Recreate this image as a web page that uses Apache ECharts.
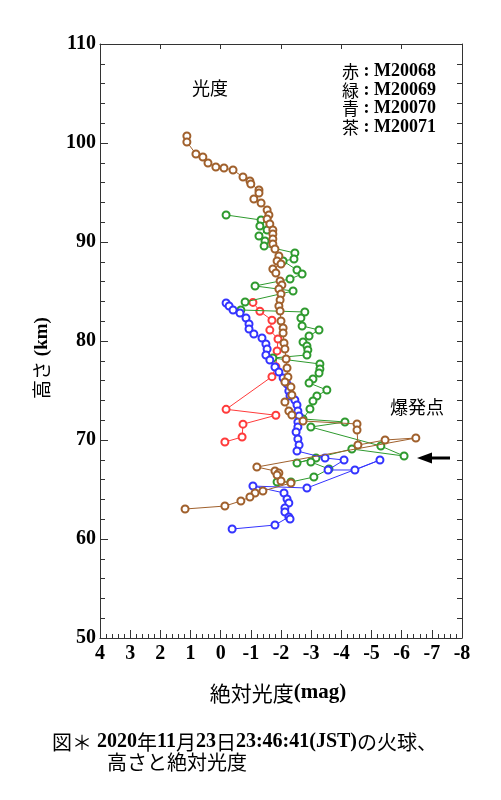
<!DOCTYPE html>
<html>
<head>
<meta charset="utf-8">
<script src="https://cdn.jsdelivr.net/npm/echarts@6/dist/echarts.min.js"></script>
<style>
html,body{margin:0;padding:0;background:#fff;}
#c{width:501px;height:800px;}
</style>
</head>
<body>
<div id="c"></div>
<script>
// ---- data (absolute magnitude, height km) ----
const seriesNames = ['M20068', 'M20069', 'M20070', 'M20071'];

const redMag = [-1.07,-1.30,-1.70,-1.63,-1.90,-1.87,-1.83,-1.70,-0.18,-1.83,-0.74,-0.71,-0.14];
const redH   = [83.9,83.0,82.1,81.1,80.2,79.0,77.4,76.4,73.1,72.5,71.6,70.3,69.8];

const greenMag = [-0.18,-1.34,-1.30,-1.54,-1.27,-1.47,-1.44,-2.46,-2.43,-2.07,-2.53,-2.70,-2.30,-1.14,-2.40,-0.81,-0.67,-2.79,-2.66,-2.70,-3.26,-2.93,-2.73,-2.86,-2.89,-2.86,-1.73,-3.29,-3.29,-3.26,-3.06,-2.93,-3.52,-3.19,-3.06,-2.96,-2.73,-4.12,-2.99,-5.31,-6.08,-4.35,-2.53,-3.16,-2.99,-3.59,-3.09,-2.33,-1.87];
const greenH   = [92.73,92.22,91.62,91.21,90.61,90.10,89.60,88.89,88.28,88.08,87.17,86.77,86.26,85.56,85.05,83.94,83.13,82.93,82.32,81.52,81.11,80.51,79.90,79.49,79.09,78.59,78.28,77.68,77.17,76.77,76.16,75.76,75.05,74.44,73.94,73.13,72.12,71.82,71.31,69.39,68.38,69.09,67.68,68.18,67.78,67.07,66.26,65.76,65.76];

const blueMag = [-0.18,-0.28,-0.41,-0.64,-0.84,-0.94,-0.94,-1.10,-1.37,-1.50,-1.54,-1.50,-1.63,-1.80,-1.93,-2.07,-2.20,-2.26,-2.30,-2.46,-2.53,-2.56,-2.60,-2.56,-2.56,-2.50,-2.56,-2.60,-2.53,-3.46,-4.09,-3.56,-4.45,-5.28,-2.86,-1.07,-2.10,-2.20,-2.26,-2.13,-2.13,-2.26,-2.30,-1.80,-0.38];
const blueH   = [83.84,83.54,83.13,82.83,82.32,81.72,81.21,80.71,80.30,79.70,79.19,78.59,78.08,77.37,76.87,76.26,75.66,74.95,74.44,74.04,73.54,72.93,72.42,71.82,71.31,70.81,70.10,69.49,68.89,68.18,67.98,66.97,66.97,67.98,65.15,65.35,64.65,64.04,63.64,63.13,62.73,62.22,62.02,61.41,61.01];

const brownMag = [1.12,1.12,0.82,0.59,0.42,0.16,-0.11,-0.41,-0.74,-0.97,-1.00,-1.27,-1.27,-1.10,-1.34,-1.54,-1.60,-1.54,-1.63,-1.73,-1.73,-1.73,-1.73,-1.80,-1.93,-1.87,-2.00,-1.73,-1.83,-1.97,-2.03,-1.93,-2.00,-1.97,-1.93,-1.97,-2.00,-2.07,-2.07,-2.10,-2.13,-2.17,-2.20,-2.23,-2.13,-2.33,-2.36,-2.13,-2.26,-2.36,-2.73,-4.52,-4.52,-4.55,-5.45,-6.47,-1.20,-1.80,-1.93,-1.87,-2.00,-2.33,-1.40,-1.14,-0.97,-0.67,-0.14,1.18];
const brownH   = [100.71,100.10,98.89,98.59,97.98,97.58,97.47,97.27,96.57,96.16,95.86,95.25,94.95,94.34,93.94,93.23,92.73,92.32,91.82,91.21,90.81,90.30,89.80,89.29,88.59,88.08,87.78,87.27,86.87,86.06,85.66,85.25,84.75,84.14,83.54,83.03,82.02,81.31,80.81,79.80,79.19,78.18,77.27,76.36,75.86,75.35,74.55,73.84,72.93,72.53,71.92,71.62,71.01,69.49,70.00,70.20,67.27,66.87,66.67,66.46,65.86,65.66,64.85,64.65,64.24,63.84,63.33,63.03];

const xTicks = [4,3,2,1,0,-1,-2,-3,-4,-5,-6,-7,-8];
const yTicks = [50,60,70,80,90,100,110];

const legendLines = [
  ['赤', 'M20068'],
  ['緑', 'M20069'],
  ['青', 'M20070'],
  ['茶', 'M20071']
];
const colors = ['#ff3b3b', '#2e9a2e', '#3333ff', '#a0602c'];

// ---- helpers ----
function zip(a, b) { return a.map((v, i) => [v, b[i]]); }
const CJK = /[\u3000-\u30ff\u4e00-\u9fff\uff00-\uffef]/;
function richText(str) {
  let out = '', cur = '', curType = null;
  for (const ch of str) {
    const t = CJK.test(ch) ? 'c' : 'l';
    if (t !== curType && cur) { out += '{' + curType + '|' + cur + '}'; cur = ''; }
    curType = t; cur += ch;
  }
  if (cur) out += '{' + curType + '|' + cur + '}';
  return out;
}
function richStyles(cSize, lSize) {
  return {
    c: { fontFamily: 'Noto Sans CJK JP', fontSize: cSize, fill: '#000', color: '#000' },
    l: { fontFamily: 'Liberation Serif', fontWeight: 'bold', fontSize: lSize, fill: '#000', color: '#000' }
  };
}
function textEl(str, x, y, cSize, lSize, opts) {
  return Object.assign({
    type: 'text', x: x, y: y,
    style: Object.assign({
      text: richText(str),
      rich: richStyles(cSize, lSize),
      align: 'left', verticalAlign: 'middle', fill: '#000'
    }, (opts && opts.style) || {})
  }, (opts && opts.el) || {});
}

const chart = echarts.init(document.getElementById('c'), null, { renderer: 'canvas' });

const allData = [zip(redMag, redH), zip(greenMag, greenH), zip(blueMag, blueH), zip(brownMag, brownH)];

const axisLineStyle = { color: '#333', width: 1 };

const option = {
  animation: false,
  backgroundColor: '#fff',
  grid: { left: 100, right: 39, top: 44, bottom: 162, containLabel: false },
  xAxis: [
    {
      type: 'value', inverse: true, min: -8, max: 4, interval: 1,
      position: 'bottom',
      axisLine: { show: true, onZero: false, lineStyle: axisLineStyle },
      axisTick: { show: true, inside: true, length: 8, lineStyle: axisLineStyle },
      minorTick: { show: true, splitNumber: 5, length: 4, lineStyle: axisLineStyle },
      splitLine: { show: false },
      axisLabel: {
        show: true, margin: 6,
        fontFamily: 'Liberation Serif', fontWeight: 'bold', fontSize: 20, color: '#000',
        formatter: function (v) { return xTicks.indexOf(v) >= 0 ? String(v) : ''; }
      }
    },
    {
      type: 'value', inverse: true, min: -8, max: 4, interval: 2,
      position: 'top',
      axisLine: { show: true, onZero: false, lineStyle: axisLineStyle },
      axisTick: { show: true, inside: true, length: 5, lineStyle: axisLineStyle },
      splitLine: { show: false },
      axisLabel: { show: false }
    }
  ],
  yAxis: [
    {
      type: 'value', min: 50, max: 110, interval: 10,
      position: 'left',
      axisLine: { show: true, onZero: false, lineStyle: axisLineStyle },
      axisTick: { show: true, inside: true, length: 8, lineStyle: axisLineStyle },
      minorTick: { show: true, splitNumber: 5, length: 5, lineStyle: axisLineStyle },
      splitLine: { show: false },
      axisLabel: {
        show: true, margin: 4,
        fontFamily: 'Liberation Serif', fontWeight: 'bold', fontSize: 20, color: '#000',
        formatter: function (v) { return yTicks.indexOf(v) >= 0 ? String(v) : ''; }
      }
    },
    {
      type: 'value', min: 50, max: 110, interval: 2,
      position: 'right',
      axisLine: { show: true, onZero: false, lineStyle: axisLineStyle },
      axisTick: { show: true, inside: true, length: 5, lineStyle: axisLineStyle },
      splitLine: { show: false },
      axisLabel: { show: false }
    }
  ],
  series: allData.map((d, i) => ({
    name: seriesNames[i],
    type: 'line',
    xAxisIndex: 0, yAxisIndex: 0,
    data: d,
    symbol: 'emptyCircle',
    symbolSize: 7,
    showAllSymbol: true,
    lineStyle: { color: colors[i], width: 1 },
    itemStyle: { color: colors[i], borderColor: colors[i], borderWidth: 1 },
    emphasis: { disabled: true },
    z: 2 + i
  })),
  graphic: [
    // panel label
    textEl('光度', 192, 88, 18, 18),
    // legend lines
    ...legendLines.map((l, i) => textEl(l[0] + ' : ' + l[1], 342, 71.5 + i * 18.6, 17, 18)),
    // explosion point label
    textEl('爆発点', 390, 407, 18, 18),
    // arrow
    { type: 'line', shape: { x1: 450, y1: 458, x2: 428, y2: 458 }, style: { stroke: '#000', lineWidth: 3 } },
    { type: 'polygon', shape: { points: [[417, 458], [432, 452.5], [432, 463.5]] }, style: { fill: '#000' } },
    // axis titles
    textEl('絶対光度(mag)', 278, 693, 21, 21, { style: { align: 'center' } }),
    textEl('高さ (km)', 42, 358, 19, 19, { style: { align: 'center' }, el: { rotation: Math.PI / 2 } }),
    // caption
    textEl('図＊', 52, 742, 20, 20),
    textEl('2020年11月23日23:46:41(JST)の火球、', 97, 742, 20, 20),
    textEl('高さと絶対光度', 107, 762, 20, 20)
  ]
};
chart.setOption(option);
</script>
</body>
</html>
